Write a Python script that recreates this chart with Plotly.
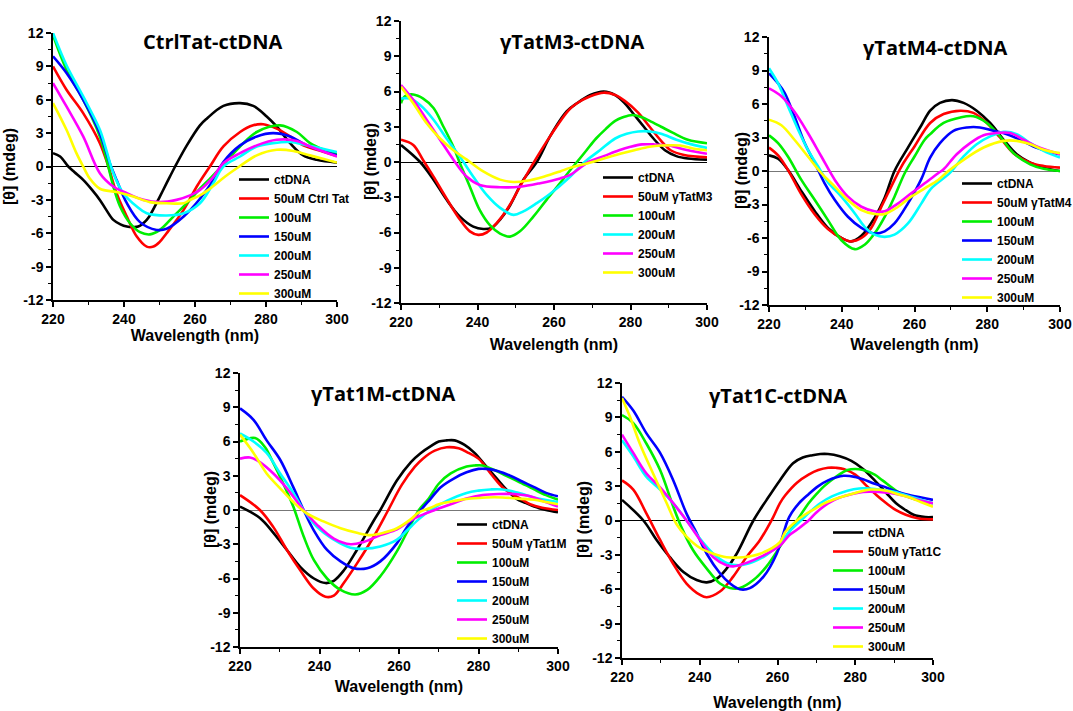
import plotly.graph_objects as go

W, H = 1073, 711

COLORS = ["#000000", "#FF0000", "#00EE00", "#0000FF", "#00FFFF", "#FF00FF", "#FFFF00"]
CONC = ["100uM", "150uM", "200uM", "250uM", "300uM"]

TITLES = ["CtrlTat-ctDNA", "γTatM3-ctDNA", "γTatM4-ctDNA", "γTat1M-ctDNA", "γTat1C-ctDNA"]
FIFTY = ["50uM Ctrl Tat", "50uM γTatM3", "50uM γTatM4", "50uM γTat1M", "50uM γTat1C"]

Y_TICKS = [-12, -9, -6, -3, 0, 3, 6, 9, 12]
X_TICKS = [220, 240, 260, 280, 300]

# ---------------- CtrlTat-ctDNA ----------------
ctrl_x = [
    [220, 222, 224.3, 226, 228.5, 231, 233.2, 235, 237, 239, 240.8, 242.5, 244, 246.4, 248, 250.1, 252, 254.4, 257.7, 261.4, 263.3, 268, 272.7, 276.4, 280.2, 283, 286.8, 290.5, 294.3, 300],
    [220, 223.8, 228.5, 233.2, 235.6, 237.9, 240.8, 243.6, 246.4, 248.3, 250, 252, 256.8, 260.5, 264.2, 268, 272.7, 276.4, 279.2, 283, 286.8, 290.5, 294.3, 300],
    [220, 223.8, 228.5, 233.2, 235.1, 237, 238.9, 241.7, 244.5, 247.3, 250.1, 253.9, 258.6, 261.4, 264.5, 267.5, 272.7, 277.4, 284, 288.7, 292.4, 296.2, 300],
    [220, 223.8, 228.5, 233.2, 236, 237.9, 240.8, 244.5, 249.2, 252, 256.8, 261.4, 265, 268, 272.7, 277.4, 282, 286.8, 291.5, 300],
    [220, 223.8, 228.5, 233.2, 235, 237, 239.8, 243.6, 246.4, 252, 256.8, 261.4, 265, 268, 272.7, 277.4, 282, 286.8, 291.5, 300],
    [220, 223.8, 228.5, 233.2, 237, 240.8, 245.5, 250.1, 254.8, 258.6, 261.4, 265, 268, 272.7, 277.4, 283, 288.7, 292.4, 300],
    [220, 223.8, 226.6, 228.5, 230.4, 233.2, 237.9, 242.6, 247.3, 252, 256.8, 258.6, 261.4, 265, 268.5, 272.5, 277.4, 283, 287.7, 292.4, 300],
]
ctrl_y = [
    [1.2, 0.9, 0, -0.5, -1.2, -2.1, -3.0, -3.9, -4.8, -5.2, -5.4, -5.45, -5.4, -4.8, -4.0, -2.7, -1.5, 0, 1.9, 3.7, 4.3, 5.45, 5.7, 5.45, 4.5, 3.6, 2.1, 1.0, 0.6, 0.35],
    [9.0, 6.9, 4.8, 2.1, 0, -2.4, -4.5, -6.3, -7.2, -7.2, -6.8, -6.0, -3.9, -1.8, 0, 1.8, 3.1, 3.7, 3.8, 3.4, 2.7, 1.9, 1.5, 0.95],
    [11.8, 8.7, 6.0, 2.7, 0.6, -1.8, -3.6, -5.1, -5.9, -6.1, -5.7, -4.5, -3.0, -2.0, -1.0, 0, 1.8, 3.1, 3.7, 3.1, 2.1, 1.5, 1.1],
    [9.9, 8.4, 6.0, 3.0, 0.3, -1.2, -3.3, -5.0, -5.7, -5.6, -4.5, -2.9, -1.3, 0.4, 1.9, 2.7, 3.0, 2.7, 1.9, 1.0],
    [12, 9.1, 6.3, 3.3, 1.5, -0.6, -2.4, -3.6, -4.2, -4.4, -4.2, -3.3, -1.6, 0, 0.9, 1.8, 2.1, 2.2, 1.9, 1.3],
    [7.5, 5.4, 2.7, -0.6, -1.8, -2.4, -3.0, -3.2, -3.0, -2.6, -2.1, -1.0, 0.3, 1.2, 1.9, 2.4, 2.3, 1.8, 0.9],
    [5.7, 3.3, 1.2, 0, -1.1, -2.0, -2.3, -2.7, -3.2, -3.3, -3.3, -3.0, -2.6, -1.8, -0.9, 0, 1.0, 1.5, 1.4, 1.0, 0.35],
]

# ---------------- γTatM3-ctDNA ----------------
m3_x = [
    [220, 225, 228.5, 231.9, 235.4, 238.9, 241.5, 243.7, 245.9, 248.5, 252, 255.5, 259, 263.3, 266, 269.5, 273, 276, 278.5, 281, 283.5, 286, 289, 292, 295, 300],
    [220, 223.2, 225.8, 228.5, 231.9, 235.4, 238, 240.2, 242.4, 245, 247.6, 251.1, 254.6, 259, 263.8, 266, 269.5, 273, 276, 278.5, 282, 285, 288, 290.5, 294, 300],
    [220, 221, 223.2, 225.8, 228.5, 231.1, 233.7, 235.4, 238, 240.6, 243.3, 245.9, 248.5, 251.1, 254.6, 258.1, 261.6, 264.2, 266, 268.5, 271, 273.5, 276, 278, 280.5, 283, 285, 288, 291, 295, 300],
    [],
    [220, 222.4, 225, 228.5, 231.9, 235.4, 238.9, 242.4, 245.9, 249.4, 252, 255.5, 259, 264.2, 268, 272, 276, 279, 282, 285, 288, 292, 296, 300],
    [220, 223.2, 226.7, 230.2, 233.7, 237.2, 240.6, 245.9, 251.1, 256.4, 261.6, 264.2, 269, 273, 277, 280, 283, 286, 290, 295, 300],
    [220, 223.2, 226.7, 230.2, 233.7, 237.2, 241.5, 245.9, 249.4, 252.9, 257.3, 261.6, 264.2, 270, 275, 281, 285, 288, 293, 297, 300],
]
m3_y = [
    [1.45, 0, -1.5, -3.2, -4.65, -5.5, -5.7, -5.6, -4.9, -3.7, -1.5, 0, 2.2, 4.3, 5.0, 5.7, 6.0, 5.7, 5.0, 4.0, 3.0, 2.0, 1.0, 0.5, 0.3, 0.2],
    [1.9, 1.45, 0.15, -1.25, -3.1, -4.9, -5.9, -6.2, -6.0, -5.2, -4.1, -2.1, -0.1, 2.2, 4.4, 5.0, 5.6, 5.9, 5.7, 5.2, 4.2, 3.0, 1.8, 1.0, 0.6, 0.4],
    [5.0, 5.6, 5.75, 5.4, 4.6, 3.0, 1.3, -0.1, -2.1, -4.1, -5.4, -6.1, -6.35, -5.9, -4.65, -3.2, -1.8, -0.7, 0, 1.0, 2.0, 2.8, 3.5, 3.8, 4.0, 3.8, 3.5, 3.0, 2.5, 1.9, 1.6],
    [],
    [5.4, 5.4, 4.85, 3.6, 2.0, 0.45, -1.25, -2.8, -3.9, -4.5, -4.2, -3.5, -2.7, -1.25, 0, 1.0, 2.0, 2.4, 2.6, 2.6, 2.4, 1.9, 1.5, 1.2],
    [6.55, 5.3, 3.6, 1.9, 0.2, -1.25, -1.95, -2.15, -2.1, -1.8, -1.4, -1.1, 0, 0.5, 1.0, 1.3, 1.5, 1.5, 1.4, 1.0, 0.7],
    [6.4, 5.0, 3.3, 2.0, 1.0, 0.2, -0.8, -1.5, -1.7, -1.6, -1.25, -0.8, -0.5, 0, 0.5, 1.0, 1.3, 1.4, 1.4, 1.1, 1.0],
]

# ---------------- γTatM4-ctDNA ----------------
m4_x = [
    [220, 222.5, 225.2, 228.9, 232.6, 236.2, 239.9, 242.6, 245.4, 249, 251.8, 254.5, 258.2, 261.9, 264.3, 267, 270.3, 273.5, 277.1, 280.8, 284.5, 288.1, 291.8, 295.5, 300],
    [220, 222.5, 225.2, 228.9, 232.6, 236.2, 239.9, 242.6, 245.4, 248.1, 250.9, 253.6, 256.4, 260, 264.3, 268, 272.6, 276.2, 279.9, 283.5, 287.2, 291.8, 295.5, 300],
    [220, 222.5, 225.2, 228.9, 232.6, 236.2, 239.9, 243.6, 246.3, 249, 251.8, 254.5, 257.3, 260, 262.8, 264.3, 268, 272.6, 276.2, 279.9, 283.5, 287.2, 291.8, 295.5, 300],
    [220, 222.5, 224.3, 227, 229.8, 232.6, 235.3, 238.1, 241.7, 245.4, 249, 251.8, 254.5, 258.2, 261.9, 264.3, 267, 270.7, 274.4, 278, 281.7, 285.4, 289, 292.7, 296.4, 300],
    [220, 222.5, 225.2, 228, 230.7, 233.5, 236.2, 239.9, 243.6, 246.3, 249, 251.8, 254.5, 258.2, 261.9, 264.5, 269.8, 273.5, 277.1, 280.8, 284.5, 288.1, 291.8, 295.5, 300],
    [220, 223.4, 227, 230.7, 234.4, 238.1, 241.7, 245.4, 249, 251.8, 255.5, 259.1, 262.8, 266.5, 268, 271.6, 275.3, 279, 282.6, 286.3, 290, 293.6, 300],
    [220, 223.4, 227, 230.7, 234.4, 238.1, 241.7, 245.4, 249, 251.8, 255.5, 259.1, 262.8, 266.5, 269.3, 273.5, 279, 284.5, 288.1, 291.8, 295.5, 300],
]
m4_y = [
    [1.4, 1.1, 0.1, -1.8, -3.6, -5.1, -6.0, -6.3, -5.8, -4.2, -2.4, 0, 2.1, 4.1, 5.4, 6.1, 6.35, 6.1, 5.4, 4.3, 2.8, 1.5, 0.75, 0.3, 0],
    [2.1, 1.4, 0.1, -2.1, -3.9, -5.2, -6.0, -6.3, -6.0, -5.1, -3.2, -1.4, 0.4, 2.2, 4.3, 5.1, 5.4, 5.2, 4.3, 3.0, 1.6, 0.75, 0.45, 0.3],
    [3.2, 2.5, 1.3, -0.8, -2.6, -4.4, -6.2, -7.0, -6.6, -5.6, -4.1, -2.3, -0.2, 1.3, 2.8, 3.3, 4.3, 4.8, 4.9, 4.3, 3.1, 1.6, 0.6, 0.2, 0],
    [8.75, 7.85, 7.0, 4.9, 2.5, 0.7, -1.1, -2.6, -4.1, -5.1, -5.6, -5.4, -4.7, -2.9, -0.7, 1.2, 2.5, 3.6, 3.9, 3.9, 3.6, 3.3, 2.8, 2.2, 1.8, 1.5],
    [9.2, 7.85, 5.8, 3.7, 1.9, 0.4, -1.0, -2.3, -3.8, -5.0, -5.7, -5.9, -5.7, -4.7, -2.9, -1.6, -0.15, 1.3, 2.4, 3.1, 3.5, 3.3, 2.5, 1.8, 1.2],
    [7.4, 6.7, 5.3, 3.4, 1.3, -0.8, -2.3, -3.2, -3.6, -3.6, -2.9, -2.0, -1.1, -0.2, 0.15, 1.5, 2.5, 3.2, 3.4, 3.4, 2.8, 2.2, 1.5],
    [4.6, 4.1, 2.8, 1.3, -0.2, -1.4, -2.6, -3.5, -3.85, -3.85, -3.2, -2.3, -1.55, -0.8, 0, 1.0, 2.1, 2.7, 2.7, 2.4, 1.9, 1.6],
]

# ---------------- γTat1M-ctDNA ----------------
t1m_x = [
    [220, 225, 228.4, 231.8, 235.2, 238.6, 241.5, 243.6, 246.1, 249.4, 253.7, 255.3, 259.5, 263, 265.5, 268, 270, 272, 274, 276.5, 279, 281.5, 284, 287, 289.5, 292, 294, 297, 300],
    [220, 225, 228.4, 231.8, 235.2, 238.6, 241.5, 243.6, 246.1, 249.4, 253.7, 257.3, 260.7, 264, 266, 269, 272, 275, 277.5, 280, 283.5, 286, 288, 291, 293, 296, 300],
    [220, 223.8, 226.3, 228.4, 230.9, 233.4, 236, 238.6, 241.9, 245.3, 249, 252, 255.3, 259.5, 262.5, 265, 267.5, 270, 273, 277, 279, 281, 284, 287, 290, 294, 297, 300],
    [220, 223.4, 226.7, 230.1, 233.4, 236, 238.6, 241.9, 245.3, 248.6, 252, 255.3, 259.5, 262, 265.5, 268, 270.5, 274, 277, 280, 282, 285, 288, 291, 294, 297, 300],
    [220, 223.4, 226.7, 230.1, 233.4, 236, 239.4, 243.6, 247.8, 251.1, 255.3, 259.5, 262, 265, 268, 272, 277, 280, 283, 286, 290, 295, 300],
    [220, 222.5, 225, 228.4, 231.8, 236, 239.4, 243.6, 247.8, 251.1, 255.3, 259.5, 263, 266, 269, 273, 277, 281, 285, 289, 293, 296, 300],
    [220, 223.4, 226.7, 230.1, 233.4, 236.8, 241, 245.3, 249.4, 252.8, 256.1, 259.5, 263, 265, 268, 270, 274, 278, 282, 286, 290, 294, 297, 300],
]
t1m_y = [
    [0.3, -0.7, -2.0, -3.5, -5.0, -6.0, -6.4, -6.2, -5.3, -3.5, -0.9, 0, 2.6, 4.2, 5.0, 5.6, 6.0, 6.1, 6.1, 5.7, 5.0, 4.0, 3.0, 1.8, 1.0, 0.6, 0.3, 0, -0.2],
    [1.3, 0, -1.5, -3.5, -5.3, -6.9, -7.6, -7.5, -6.4, -4.7, -2.3, 0, 2.2, 3.8, 4.5, 5.2, 5.5, 5.4, 5.0, 4.5, 3.0, 2.0, 1.5, 0.9, 0.5, 0.2, 0],
    [6.0, 6.3, 5.5, 4.1, 2.3, 0.3, -2.3, -4.4, -6.0, -7.0, -7.4, -7.0, -5.8, -3.6, -1.6, 0, 1.0, 2.3, 3.2, 3.8, 3.9, 3.9, 3.5, 3.0, 2.5, 1.8, 1.3, 0.9],
    [8.9, 7.9, 6.1, 4.4, 2.0, 0, -1.8, -3.5, -4.5, -5.1, -5.1, -4.5, -2.9, -1.5, 0, 1.0, 2.0, 2.8, 3.3, 3.6, 3.6, 3.4, 3.0, 2.5, 2.0, 1.5, 1.2],
    [6.7, 6.0, 5.0, 3.2, 1.5, 0, -1.5, -2.6, -3.3, -3.4, -3.2, -2.6, -1.8, -0.8, 0, 0.8, 1.5, 1.7, 1.8, 1.8, 1.5, 1.0, 0.7],
    [4.5, 4.6, 4.2, 3.2, 1.9, 0, -1.3, -2.5, -3.0, -2.8, -2.2, -1.7, -0.9, -0.4, 0, 0.5, 1.0, 1.3, 1.4, 1.4, 1.2, 0.8, 0.3],
    [6.6, 5.0, 3.2, 1.9, 0.7, -0.3, -1.0, -1.6, -2.0, -2.2, -2.0, -1.6, -0.8, -0.2, 0.2, 0.5, 0.8, 1.0, 1.1, 1.1, 1.0, 0.9, 0.7, 0.5],
]

# ---------------- γTat1C-ctDNA ----------------
t1c_x = [
    [220, 225.5, 228.9, 232.3, 235.8, 239.2, 241.8, 244.3, 246.9, 249.5, 253.8, 257.2, 260.6, 264, 266.5, 269, 271, 273, 276, 279, 282, 285, 288, 290.5, 293, 295, 298, 300],
    [220, 222.9, 226.3, 229.8, 233.2, 236.6, 240.1, 241.8, 245.2, 248.6, 252, 255.5, 258.9, 260.6, 262, 265, 268, 270.5, 273, 275, 277, 280, 283, 285.5, 288, 290.5, 293, 296, 300],
    [220, 222.9, 226.3, 229.8, 233.2, 235.3, 238.3, 241.8, 245.2, 247.8, 250.3, 253.8, 257.2, 260.6, 263, 265, 268, 270, 272, 275, 278, 280, 282, 285, 287, 291, 295, 300],
    [220, 222.9, 226.3, 229.8, 233.2, 236.6, 239.2, 241.8, 245.2, 247.8, 250.3, 252.9, 256.4, 259.8, 263, 265.5, 268, 270.5, 273, 277, 280, 282, 285, 287, 290, 293, 297, 300],
    [220, 222.9, 226.3, 229.8, 233.2, 236.6, 240.1, 243.5, 246.9, 250.3, 253.8, 257.2, 260.6, 263.5, 266, 268.5, 271, 274, 278, 281, 283, 286, 290, 295, 300],
    [220, 222.9, 226.3, 229.8, 233.2, 236.6, 240.1, 243.5, 246.9, 248.6, 252, 255.5, 260.6, 263, 265, 268, 270, 273, 276, 279, 282, 286, 289, 292, 296, 300],
    [220, 222, 224.6, 228, 231.5, 234, 236.6, 240.1, 243.5, 246.9, 251.2, 255.5, 260.6, 262, 265, 267, 269.5, 272, 276, 280, 284, 288, 291, 294, 297, 300],
]
t1c_y = [
    [1.8, 0, -1.7, -3.2, -4.5, -5.2, -5.4, -5.1, -4.2, -2.9, 0, 1.8, 3.5, 5.0, 5.5, 5.7, 5.8, 5.8, 5.6, 5.2, 4.5, 3.5, 2.4, 1.5, 0.9, 0.5, 0.3, 0.3],
    [3.5, 2.7, 0.6, -1.7, -3.8, -5.5, -6.5, -6.7, -6.2, -4.9, -3.2, -1.7, 0.3, 1.5, 2.2, 3.3, 4.0, 4.4, 4.6, 4.6, 4.5, 4.0, 3.0, 2.2, 1.5, 0.9, 0.5, 0.2, 0.1],
    [9.2, 8.5, 6.7, 4.4, 1.2, -0.6, -2.6, -4.2, -5.5, -5.9, -5.9, -5.2, -4.0, -2.3, -1.0, 0, 1.5, 2.3, 3.0, 3.8, 4.4, 4.5, 4.4, 4.0, 3.5, 2.5, 1.9, 1.5],
    [10.8, 9.6, 7.6, 5.9, 3.5, 0.6, -1.1, -2.9, -4.6, -5.5, -6.0, -5.9, -4.9, -2.9, 0.3, 1.5, 2.3, 3.0, 3.5, 3.9, 3.8, 3.6, 3.2, 3.0, 2.6, 2.3, 2.0, 1.8],
    [7.0, 5.6, 3.8, 2.7, 1.5, 0, -1.6, -2.9, -3.7, -3.9, -3.6, -3.0, -2.0, -0.8, 0, 0.8, 1.5, 2.1, 2.6, 2.8, 2.8, 2.7, 2.5, 2.0, 1.5],
    [7.5, 5.9, 4.1, 2.9, 1.5, 0, -1.7, -3.2, -3.9, -4.0, -3.7, -3.2, -2.2, -1.3, -0.8, 0, 0.7, 1.5, 2.0, 2.3, 2.5, 2.5, 2.4, 2.2, 1.8, 1.5],
    [10.7, 9.1, 6.7, 4.1, 1.5, -0.3, -1.4, -2.4, -2.9, -3.2, -3.2, -2.9, -1.9, -1.0, 0, 0.5, 1.0, 1.5, 2.0, 2.4, 2.7, 2.6, 2.3, 2.0, 1.6, 1.2],
]

PANEL_X = [ctrl_x, m3_x, m4_x, t1m_x, t1c_x]
PANEL_Y = [ctrl_y, m3_y, m4_y, t1m_y, t1c_y]

# ---- layout geometry (pixels) ----
# plot areas: (left, right, top, bottom)
BOXES = [(53, 337, 33, 300), (401, 707, 21, 303), (769, 1060, 37, 305),
         (240, 558, 373, 647), (622, 933, 383, 658)]
TITLE_POS = [(212, 42), (572, 42), (935, 47), (383, 393), (778, 395)]
LEGEND_POS = [(234, 165), (598, 163), (957, 169), (452, 510), (828, 518)]
YTITLE_POS = [(10, 167), (370, 162), (742, 171), (210, 510), (583, 520)]
XT_STANDOFF = [3, 10, 8, 8, 15]
ZERO_COL = ["#000000", "#000000", "#777777", "#777777", "#000000"]

FONT = "Liberation Sans, Arial, sans-serif"

fig = go.Figure()
layout = dict(width=W, height=H, margin=dict(l=0, r=0, t=0, b=0, autoexpand=False),
              paper_bgcolor="white", plot_bgcolor="white", annotations=[])

for i in range(5):
    n = "" if i == 0 else str(i + 1)
    labels = ["ctDNA", FIFTY[i]] + CONC
    for k in range(7):
        fig.add_trace(go.Scatter(
            x=PANEL_X[i][k], y=PANEL_Y[i][k], mode="lines",
            line=dict(color=COLORS[k], width=2.6, shape="spline", smoothing=1.0),
            name=labels[k], xaxis="x" + n, yaxis="y" + n,
            legend="legend" + n, showlegend=True))
    l, r, t, b = BOXES[i]
    xa = dict(domain=[l / W, r / W], range=[220, 300], anchor="y" + n, automargin=False,
              showline=True, linecolor="black", linewidth=1.5, mirror=False,
              showgrid=False, zeroline=False, ticks="outside", ticklen=5,
              tickwidth=1.5, tickcolor="black", tickvals=X_TICKS,
              minor=dict(ticks="outside", ticklen=3, tickwidth=1, dtick=10, tick0=220, tickcolor="black"),
              tickfont=dict(family=FONT, size=14, color="black", weight="bold"),
              title=dict(text="Wavelength (nm)", standoff=XT_STANDOFF[i],
                         font=dict(family=FONT, size=16, color="black", weight="bold")))
    ya = dict(domain=[1 - b / H, 1 - t / H], range=[-12, 12], anchor="x" + n, automargin=False,
              showline=True, linecolor="black", linewidth=1.5, mirror=False,
              showgrid=False, zeroline=True, zerolinecolor=ZERO_COL[i], zerolinewidth=1,
              ticks="outside", ticklen=5, tickwidth=1.5, tickcolor="black",
              tickvals=Y_TICKS, ticktext=[str(v) for v in Y_TICKS],
              minor=dict(ticks="outside", ticklen=3, tickwidth=1, dtick=1.5, tick0=0, tickcolor="black"),
              tickfont=dict(family=FONT, size=14, color="black", weight="bold"))
    layout["xaxis" + n] = xa
    layout["yaxis" + n] = ya
    lx, ly = LEGEND_POS[i]
    layout["legend" + n] = dict(x=lx / W, y=1 - ly / H, xanchor="left", yanchor="top",
                                bgcolor="rgba(0,0,0,0)", borderwidth=0,
                                font=dict(family=FONT, size=12, color="black", weight="bold"),
                                tracegroupgap=0, itemwidth=30)
    tx, ty = TITLE_POS[i]
    layout["annotations"].append(dict(
        text=TITLES[i], x=tx / W, y=1 - ty / H, xref="paper", yref="paper",
        xanchor="center", yanchor="middle", showarrow=False,
        font=dict(family="Open Sans, sans-serif", size=20, color="black", weight="bold")))
    yx, yy = YTITLE_POS[i]
    layout["annotations"].append(dict(
        text="[θ] (mdeg)", x=yx / W, y=1 - yy / H, xref="paper", yref="paper",
        xanchor="center", yanchor="middle", showarrow=False, textangle=-90,
        font=dict(family=FONT, size=16, color="black", weight="bold")))

fig.update_layout(**layout)
fig.write_html("out.html", config={"displayModeBar": False},
               post_script="document.body.style.margin='0';")
